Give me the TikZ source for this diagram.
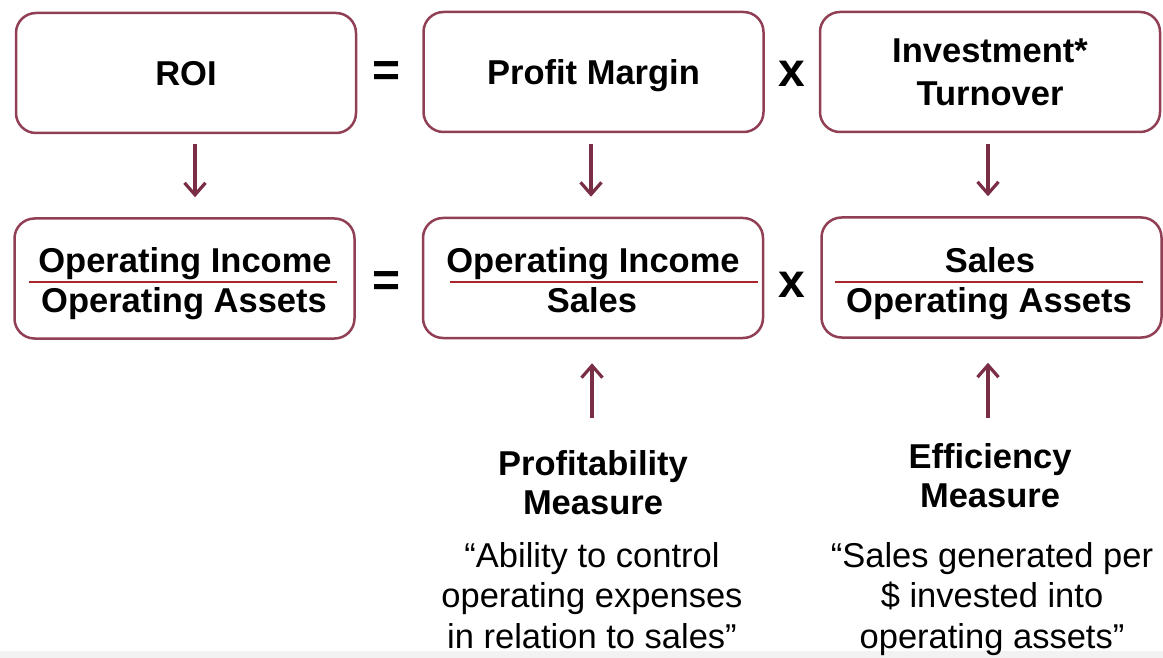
\documentclass[tikz,border=0pt]{standalone}
\usepackage{fontspec}
\setmainfont{Liberation Sans}
\usepackage{xcolor}
\usepackage{tikz}
\usetikzlibrary{arrows.meta,positioning,calc}
\definecolor{wine}{HTML}{913F55}
\definecolor{arrowwine}{HTML}{7A2E45}
\definecolor{barred}{HTML}{A8262C}
\tikzset{
  box/.style={draw=wine, line width=2.5pt, rounded corners=20pt, minimum width=340pt, minimum height=120pt, align=center, text depth=0pt, font=\bfseries\fontsize{34.5}{43}\selectfont},
  op/.style={font=\bfseries\fontsize{48}{48}\selectfont, inner sep=0pt},
  frac/.style={anchor=base, inner sep=0pt, font=\bfseries\fontsize{34.5}{40}\selectfont},
  bar/.style={draw=barred, line width=2pt},
  link/.style={draw=arrowwine, line width=3.2pt, -{Straight Barb[length=12pt,width=21pt]}},
  measure/.style={align=center, anchor=base, inner sep=0pt, font=\bfseries\fontsize{34.5}{39}\selectfont},
  remark/.style={align=center, anchor=base, inner sep=0pt, font=\fontsize{34.5}{40.5}\selectfont}
}

\begin{document}
\begin{tikzpicture}[x=1pt,y=-1pt]
  \useasboundingbox (0,0) rectangle (1163,658);
  \fill[black!5] (0,651) rectangle (1163,658);

  % ratios in words
  \node[box] (roi) at (186,73) {ROI};
  \node[box] (margin) at (593.5,72) {Profit Margin};
  \node[box] (turnover) at (990,72) {Investment*\\Turnover};
  \node[op] (eqTop) at (387,74) {=};
  \node[op] (timesTop) at (792,74) {x};

  % the same ratios as fractions
  \node[box] (roiFrac) at (184.5,278.5) {};
  \node[box] (marginFrac) at (593,278) {};
  \node[box] (turnoverFrac) at (991.5,277.5) {};
  \node[op] (eqBot) at (387,284) {=};
  \node[op] (timesBot) at (792,285) {x};

  \node[frac] (roiNum) at (185,272) {Operating Income};
  \node[frac] (roiDen) at (184,312) {Operating Assets};
  \draw[bar] (29,282) -- (337,282);
  \node[frac] (marginNum) at (593,272) {Operating Income};
  \node[frac] (marginDen) at (592,312) {Sales};
  \draw[bar] (450,282) -- (758,282);
  \node[frac] (turnoverNum) at (990,272) {Sales};
  \node[frac] (turnoverDen) at (989,312) {Operating Assets};
  \draw[bar] (835,282) -- (1143,282);

  % arrows down
  \coordinate (roiTail) at (195,132);
  \coordinate (marginTail) at (591,132);
  \coordinate (turnoverTail) at (988,132);
  \draw[link, shorten <=12pt, shorten >=20pt] (roiTail) -- (roiTail |- roiFrac.north);
  \draw[link, shorten <=12pt, shorten >=20pt] (marginTail) -- (marginTail |- marginFrac.north);
  \draw[link, shorten <=12pt, shorten >=20pt] (turnoverTail) -- (turnoverTail |- turnoverFrac.north);

  % what each factor measures
  \coordinate (marginFoot) at (592,418);
  \coordinate (turnoverFoot) at (988,418);
  \draw[link, shorten >=24pt] (marginFoot) -- (marginFoot |- marginFrac.south);
  \draw[link, shorten >=24pt] (turnoverFoot) -- (turnoverFoot |- turnoverFrac.south);

  \node[measure] (profit) at (593,514) {Profitability\\Measure};
  \node[measure] (effic) at (990,507) {Efficiency\\Measure};
  \node[remark] (profitNote) at (592,648) {“Ability to control\\operating expenses\\in relation to sales”};
  \node[remark] (efficNote) at (992,648) {“Sales generated per\\\$ invested into\\operating assets”};
\end{tikzpicture}
\end{document}
